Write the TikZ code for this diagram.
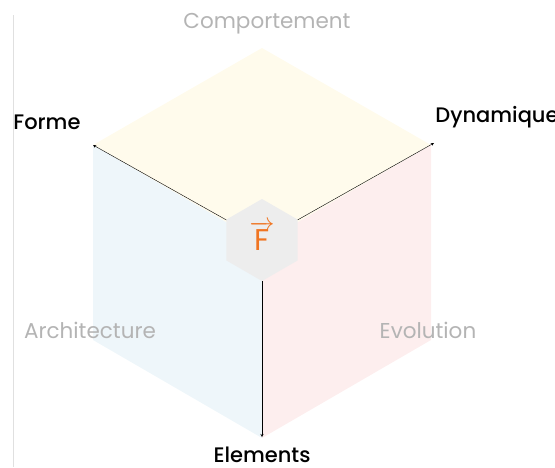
\documentclass[tikz,border=0pt]{standalone}
\usepackage{fontspec}
\setmainfont{Poppins}
\newfontfamily\axisfont{Poppins}[UprightFont=* Medium]
\usepackage{xcolor}
\usetikzlibrary{shapes.geometric,positioning}
\definecolor{topface}{HTML}{FFFBEC}
\definecolor{leftface}{HTML}{EEF6FA}
\definecolor{rightface}{HTML}{FDEEEE}
\definecolor{hexgray}{HTML}{EDEDED}
\definecolor{dimtext}{HTML}{B4B4B4}
\definecolor{forceorange}{HTML}{F07522}
\tikzset{axis/.style={font=\axisfont\fontsize{21}{24}\selectfont,text=black},
         dimlabel/.style={font=\fontsize{21.5}{24}\selectfont,text=dimtext},
         hexa/.style={regular polygon,regular polygon sides=6,shape border rotate=30,minimum size=82pt,fill=hexgray,inner sep=0pt}}
\begin{document}
\begin{tikzpicture}[x=1pt,y=-1pt,>=stealth]
        \useasboundingbox (0,0) rectangle (555,467);
        \draw[black!12] (13,15) -- (13,467);
        % faces of the cube
        \fill[topface] (262,243) -- (93,145) -- (262,48) -- (431,145) -- cycle;
        \fill[leftface] (262,243) -- (93,145) -- (93,340) -- (262,438) -- cycle;
        \fill[rightface] (262,243) -- (431,145) -- (431,340) -- (262,438) -- cycle;

        \coordinate (tforme) at (93,145);
        \coordinate (tdyn) at (434,143);
        \coordinate (telem) at (262,437);
        \node[hexa] (hex) at (262,240) {};
        \node[text=forceorange,font=\fontsize{30}{34}\selectfont] (force) at (262,236) {$\overrightarrow{\hbox{\,F\,}}$};

        \node[dimlabel] (comp) at (267,24) {Comportement};
        \node[dimlabel] (arch) at (90,330) {Architecture};
        \node[dimlabel] (evol) at (428,330) {Evolution};
        \node[axis] (forme) at (47,122) {Forme};
        \node[axis] (dyn) at (497,117) {Dynamique};
        \node[axis] (elem) at (262,455) {Elements};

        \draw [->] (hex) -- (tforme);
        \draw [->] (hex) -- (tdyn);
        \draw [->] (hex) -- (telem);
    \end{tikzpicture}
\end{document}
